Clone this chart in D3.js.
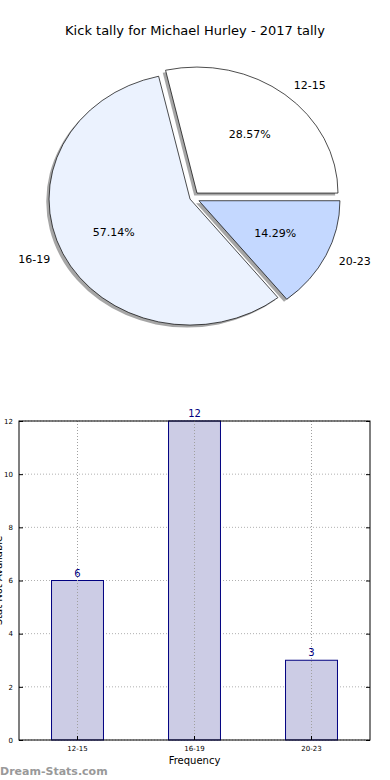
<!DOCTYPE html>
<html>
<head>
<meta charset="utf-8">
<script src="https://cdn.jsdelivr.net/npm/d3@7"></script>
<style>
  html, body { margin: 0; padding: 0; background: #fff; }
  svg { display: block; font-family: "DejaVu Sans", sans-serif; }
</style>
</head>
<body>
<svg id="chart" width="390" height="780"></svg>
<script>
// ---- data ----
const title = "Kick tally for Michael Hurley - 2017 tally";
const categories = ["12-15", "16-19", "20-23"];
const counts = [6, 12, 3];
const pieColors = ["#ffffff", "#ebf2fe", "#c4d8ff"];
const yTicks = [0, 2, 4, 6, 8, 10, 12];
const xLabel = "Frequency";
const yLabel = "Stat Not Available";
const watermark = "Dream-Stats.com";

(function () {
// ---- layout constants ----
const explode = [0.05, 0.02, 0.05];
const pieCx = 192.6, pieCy = 198, rx = 141, ry = 126;

const svg = d3.select("#chart");

svg.append("text")
  .attr("x", 195).attr("y", 35)
  .attr("text-anchor", "middle")
  .attr("font-size", 13)
  .attr("fill", "#000")
  .text(title);

// ---- pie ----
const total = d3.sum(counts);
const pie = d3.pie().sort(null).startAngle(Math.PI / 2).endAngle(Math.PI / 2 - 2 * Math.PI);
const arcs = pie(counts);
const arc = d3.arc().innerRadius(0).outerRadius(1);

const pieG = svg.append("g");
arcs.forEach((a, i) => {
  const mid = (a.startAngle + a.endAngle) / 2;
  const ux = Math.sin(mid), uy = -Math.cos(mid);
  const ox = pieCx + explode[i] * ux * rx;
  const oy = pieCy + explode[i] * uy * ry;
  pieG.append("path")
    .attr("d", arc(a))
    .attr("transform", `translate(${ox - 2.8},${oy + 2.5}) scale(${rx},${ry})`)
    .attr("fill", "#4d4d4d").attr("fill-opacity", 0.5);
});
arcs.forEach((a, i) => {
  const mid = (a.startAngle + a.endAngle) / 2;
  const ux = Math.sin(mid), uy = -Math.cos(mid);
  const ox = pieCx + explode[i] * ux * rx;
  const oy = pieCy + explode[i] * uy * ry;
  pieG.append("path")
    .attr("d", arc(a))
    .attr("transform", `translate(${ox},${oy}) scale(${rx},${ry})`)
    .attr("fill", pieColors[i])
    .attr("stroke", "#000")
    .attr("stroke-width", 0.7)
    .attr("vector-effect", "non-scaling-stroke");
  const lx = ox + 1.1 * ux * rx, ly = oy + 1.1 * uy * ry;
  pieG.append("text")
    .attr("x", lx).attr("y", ly)
    .attr("dy", "0.35em")
    .attr("text-anchor", ux > 0 ? "start" : "end")
    .attr("font-size", 11)
    .attr("fill", "#000")
    .text(categories[i]);
  const px = ox + 0.6 * ux * rx, py = oy + 0.6 * uy * ry;
  pieG.append("text")
    .attr("x", px).attr("y", py)
    .attr("dy", "0.35em")
    .attr("text-anchor", "middle")
    .attr("font-size", 11)
    .attr("fill", "#000")
    .text((counts[i] / total * 100).toFixed(2) + "%");
});

// ---- bar chart ----
const mLeft = 19, mRight = 370, mTop = 421, mBottom = 740;
const x = d3.scaleBand().domain(categories).range([mLeft, mRight])
  .paddingInner(0.556).paddingOuter(0.278);
const y = d3.scaleLinear().domain([0, 12]).range([mBottom, mTop]);

const barG = svg.append("g");

barG.selectAll(".hgrid").data(yTicks).join("line")
  .attr("x1", mLeft).attr("x2", mRight)
  .attr("y1", d => y(d)).attr("y2", d => y(d))
  .attr("stroke", "#b0b0b0").attr("stroke-width", 1)
  .attr("stroke-dasharray", "1,2");

barG.selectAll(".bar").data(categories).join("rect")
  .attr("x", d => x(d)).attr("width", x.bandwidth())
  .attr("y", (d, i) => y(counts[i]))
  .attr("height", (d, i) => mBottom - y(counts[i]))
  .attr("fill", "#ccccE5")
  .attr("stroke", "#000080").attr("stroke-width", 1);

barG.selectAll(".vgrid").data(categories).join("line")
  .attr("x1", d => x(d) + x.bandwidth() / 2).attr("x2", d => x(d) + x.bandwidth() / 2)
  .attr("y1", mTop).attr("y2", mBottom)
  .attr("stroke", "#a0a0a0").attr("stroke-width", 1)
  .attr("stroke-dasharray", "1,2");

barG.selectAll(".val").data(categories).join("text")
  .attr("x", d => x(d) + x.bandwidth() / 2)
  .attr("y", (d, i) => y(counts[i]) - 4)
  .attr("text-anchor", "middle")
  .attr("font-size", 10)
  .attr("fill", "#000080")
  .text((d, i) => counts[i]);

barG.append("rect")
  .attr("x", mLeft).attr("y", mTop)
  .attr("width", mRight - mLeft).attr("height", mBottom - mTop)
  .attr("fill", "none").attr("stroke", "#000").attr("stroke-width", 1);

const yAxis = d3.axisLeft(y).tickValues(yTicks).tickSize(-4).tickPadding(6);
const yg = barG.append("g").attr("transform", `translate(${mLeft},0)`).call(yAxis);
yg.select(".domain").remove();
yg.selectAll("text").attr("font-size", 7).attr("font-family", "DejaVu Sans, sans-serif").attr("fill", "#000");
yg.selectAll("line").attr("stroke", "#000");
const yAxisR = d3.axisRight(y).tickValues(yTicks).tickSize(-4).tickFormat("");
const ygr = barG.append("g").attr("transform", `translate(${mRight},0)`).call(yAxisR);
ygr.select(".domain").remove();
ygr.selectAll("line").attr("stroke", "#000");

const xAxis = d3.axisBottom(x).tickSize(-4).tickPadding(6);
const xg = barG.append("g").attr("transform", `translate(0,${mBottom})`).call(xAxis);
xg.select(".domain").remove();
xg.selectAll("text").attr("font-size", 7).attr("font-family", "DejaVu Sans, sans-serif").attr("fill", "#000");
xg.selectAll("line").attr("stroke", "#000");

barG.append("text")
  .attr("x", (mLeft + mRight) / 2).attr("y", 764)
  .attr("text-anchor", "middle")
  .attr("font-size", 10)
  .attr("fill", "#000")
  .text(xLabel);

barG.append("text")
  .attr("transform", `translate(2,${(mTop + mBottom) / 2}) rotate(-90)`)
  .attr("text-anchor", "middle")
  .attr("font-size", 10)
  .attr("fill", "#000")
  .text(yLabel);

svg.append("text")
  .attr("x", 0).attr("y", 775)
  .attr("font-size", 11)
  .attr("font-weight", "bold")
  .attr("fill", "#999")
  .text(watermark);
})();
</script>
</body>
</html>
